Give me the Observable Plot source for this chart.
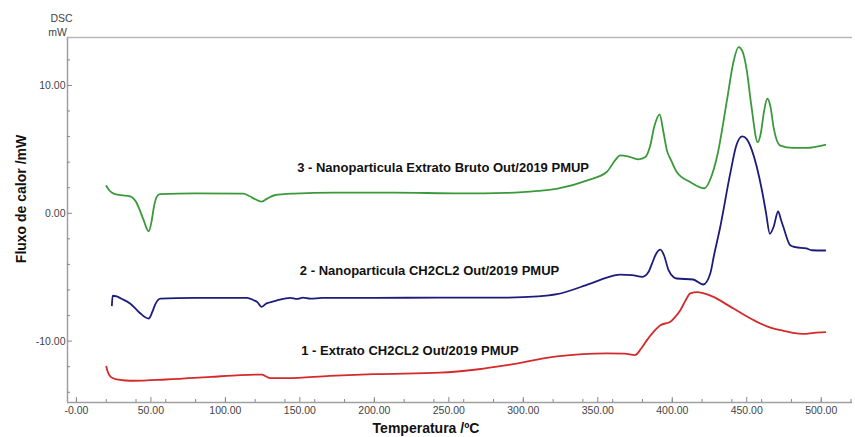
<!DOCTYPE html>
<html>
<head>
<meta charset="utf-8">
<script src="https://cdn.jsdelivr.net/npm/d3@7"></script>
<script src="https://cdn.jsdelivr.net/npm/@observablehq/plot@0.6"></script>
<style>
  html, body { margin: 0; padding: 0; background: #fff; }
  #chart svg { display: block; }
</style>
</head>
<body>
<div id="chart"></div>
<script>
// ---- Data ----
const greenT = [20.1, 22, 25, 30, 36, 40, 42, 45, 48.5, 50.5, 52, 54, 56, 80, 112, 116, 120, 124, 128, 133, 146, 173, 213, 258, 289, 310, 323, 343, 356, 362, 365, 371.8, 377.4, 382, 385, 388, 391.5, 394, 396.4, 399, 403, 412, 421.7, 426, 430, 436.7, 441, 444.5, 447, 450, 453, 457.4, 459.5, 461.5, 463.8, 466, 468, 472.5, 481, 490, 502.7];
const greenV = [2.13, 1.8, 1.54, 1.42, 1.33, 0.9, 0.4, -0.5, -1.41, -0.6, 0.49, 1.3, 1.5, 1.55, 1.54, 1.35, 1.1, 0.91, 1.15, 1.41, 1.54, 1.62, 1.62, 1.55, 1.59, 1.75, 1.93, 2.58, 3.23, 4.2, 4.53, 4.40, 4.22, 4.4, 5.2, 6.8, 7.73, 6.4, 4.92, 4.2, 3.23, 2.45, 1.96, 2.8, 4.4, 8.83, 11.8, 13.0, 12.7, 11.2, 8.5, 5.56, 6.3, 7.9, 8.96, 8.3, 6.74, 5.3, 5.12, 5.12, 5.36];

const blueT = [23.8, 24.3, 27, 30, 36, 40, 43, 48.5, 51, 53, 56.4, 80, 114.5, 119, 121.5, 124.2, 127, 129, 135, 143.6, 148, 152, 157, 165, 200, 244, 289, 310, 322.6, 345, 360, 365, 373, 380, 384, 386.4, 389, 392, 394.5, 397.5, 401, 403, 414, 420.8, 425.5, 428, 432.2, 438.9, 443, 447, 450, 453.5, 460.2, 463, 465.5, 468, 471.1, 473, 474.6, 479.2, 482.7, 490, 493.7, 502.7];
const blueV = [-7.2, -6.45, -6.5, -6.67, -7.06, -7.5, -7.84, -8.23, -7.7, -7.1, -6.67, -6.62, -6.61, -6.8, -6.95, -7.32, -7.1, -7.0, -6.8, -6.61, -6.7, -6.6, -6.68, -6.62, -6.62, -6.59, -6.59, -6.5, -6.33, -5.5, -4.9, -4.79, -4.84, -4.97, -4.6, -3.93, -3.2, -2.84, -3.3, -4.45, -5.0, -5.1, -5.18, -5.57, -4.71, -3.3, -1.07, 3.1, 5.3, 6.01, 5.8, 4.92, 1.8, 0.0, -1.6, -1.07, 0.14, -0.5, -1.07, -2.5, -2.65, -2.75, -2.89, -2.91];

const redT = [20.1, 21, 23, 27, 33, 38.5, 60, 90, 110, 124.6, 127, 130.2, 141.4, 170, 199.5, 244, 270, 289, 322.6, 356, 368, 375, 379, 383, 388, 392, 398.7, 402, 405.4, 409, 412.1, 416.8, 420, 427.7, 434, 441.1, 449, 456.8, 465, 474.6, 481, 488, 495, 502.7];
const redV = [-12.0, -12.4, -12.8, -13.0, -13.08, -13.1, -13.0, -12.8, -12.66, -12.62, -12.75, -12.9, -12.9, -12.72, -12.58, -12.47, -12.2, -11.88, -11.2, -10.96, -10.98, -11.09, -10.6, -9.92, -9.2, -8.75, -8.49, -8.1, -7.58, -6.8, -6.27, -6.17, -6.22, -6.54, -6.95, -7.45, -8.0, -8.49, -8.9, -9.19, -9.35, -9.43, -9.35, -9.3];

const seriesColors = ["#d42a2a", "#1c1c7c", "#3a9a3a"];

const annLabels = ["1 - Extrato CH2CL2 Out/2019 PMUP", "2 - Nanoparticula CH2CL2 Out/2019 PMUP", "3 - Nanoparticula Extrato Bruto Out/2019 PMUP"];
const annT = [150.9, 150.0, 148.2];
const annV = [-10.74, -4.48, 3.53];

const xTicksMajor = [0, 50, 100, 150, 200, 250, 300, 350, 400, 450, 500];
const xTicksMinor = [0, 20, 40, 60, 80, 100, 120, 140, 160, 180, 200, 220, 240, 260, 280, 300, 320, 340, 360, 380, 400, 420, 440, 460, 480, 500, 520];
const yTicksMajor = [-10, 0, 10];
const yTicksMinor = [-14, -12, -8, -6, -4, -2, 2, 4, 6, 8, 12];

const xDomain = [-6, 521];
const yDomain = [-14.8, 13.75];

// ---- Layout ----
const W = 855, H = 437, mL = 67, mR = 3, mT = 37, mB = 35;
const pxX = (W - mL - mR) / (xDomain[1] - xDomain[0]);
const pxY = (H - mT - mB) / (yDomain[1] - yDomain[0]);

const toRows = (T, V) => T.map((t, i) => ({t, v: V[i]}));
const red = toRows(redT, redV);
const blue = toRows(blueT, blueV);
const green = toRows(greenT, greenV);
const ann = annLabels.map((s, i) => ({s, t: annT[i], v: annV[i]}));

const axisColor = "#a0a0a0";

const chart = Plot.plot({
  width: W,
  height: H,
  marginLeft: mL,
  marginRight: mR,
  marginTop: mT,
  marginBottom: mB,
  x: {domain: xDomain},
  y: {domain: yDomain},
  style: {fontFamily: "'Liberation Sans', Arial, sans-serif", fontSize: "10.5px", color: "#444", background: "#fff", overflow: "visible"},
  marks: [
    // frame lines
    Plot.ruleY([yDomain[1]], {stroke: "#b8b8b8", strokeWidth: 1.5}),
    Plot.ruleX([xDomain[0]], {stroke: axisColor, strokeWidth: 1.5}),
    Plot.ruleY([yDomain[0]], {stroke: axisColor, strokeWidth: 1.5}),
    // inward ticks
    Plot.ruleY(yTicksMajor, {x1: xDomain[0], x2: xDomain[0] + 5 / pxX, stroke: "#888", strokeWidth: 1}),
    Plot.ruleY(yTicksMinor, {x1: xDomain[0], x2: xDomain[0] + 3 / pxX, stroke: "#888", strokeWidth: 1}),
    Plot.ruleX(xTicksMajor, {y1: yDomain[0], y2: yDomain[0] + 5 / pxY, stroke: "#888", strokeWidth: 1}),
    Plot.ruleX(xTicksMinor, {y1: yDomain[0], y2: yDomain[0] + 3 / pxY, stroke: "#888", strokeWidth: 1}),
    // axis labels
    Plot.axisY(yTicksMajor, {tickSize: 0, tickPadding: 2, tickFormat: d => d.toFixed(2), label: null, fill: "#444"}),
    Plot.axisX(xTicksMajor, {tickSize: 0, tickPadding: 4, tickFormat: d => (d === 0 ? "-0.00" : d.toFixed(2)), label: null, fill: "#444"}),
    // curves
    Plot.line(red, {x: "t", y: "v", stroke: seriesColors[0], strokeWidth: 1.8, curve: "monotone-x"}),
    Plot.line(blue, {x: "t", y: "v", stroke: seriesColors[1], strokeWidth: 1.8, curve: "monotone-x"}),
    Plot.line(green, {x: "t", y: "v", stroke: seriesColors[2], strokeWidth: 1.8, curve: "monotone-x"}),
    // annotations
    Plot.text(ann, {x: "t", y: "v", text: "s", textAnchor: "start", lineAnchor: "middle", fontWeight: "bold", fontSize: 13, fill: "#111"}),
    // unit / titles
    Plot.text(["DSC"], {frameAnchor: "top-left", dx: -6, dy: -19, textAnchor: "middle", lineAnchor: "middle", fontSize: 10.5, fill: "#444"}),
    Plot.text(["mW"], {frameAnchor: "top-left", dx: -10, dy: -5, textAnchor: "middle", lineAnchor: "middle", fontSize: 10.5, fill: "#444"}),
    Plot.text(["Fluxo de calor /mW"], {frameAnchor: "left", rotate: -90, dx: -46, dy: -21, textAnchor: "middle", lineAnchor: "middle", fontWeight: "bold", fontSize: 14, fill: "#111"}),
    Plot.text(["Temperatura /ºC"], {frameAnchor: "bottom", dx: -34, dy: 26, textAnchor: "middle", lineAnchor: "middle", fontWeight: "bold", fontSize: 14, fill: "#111"})
  ]
});

document.getElementById("chart").appendChild(chart);
</script>
</body>
</html>
